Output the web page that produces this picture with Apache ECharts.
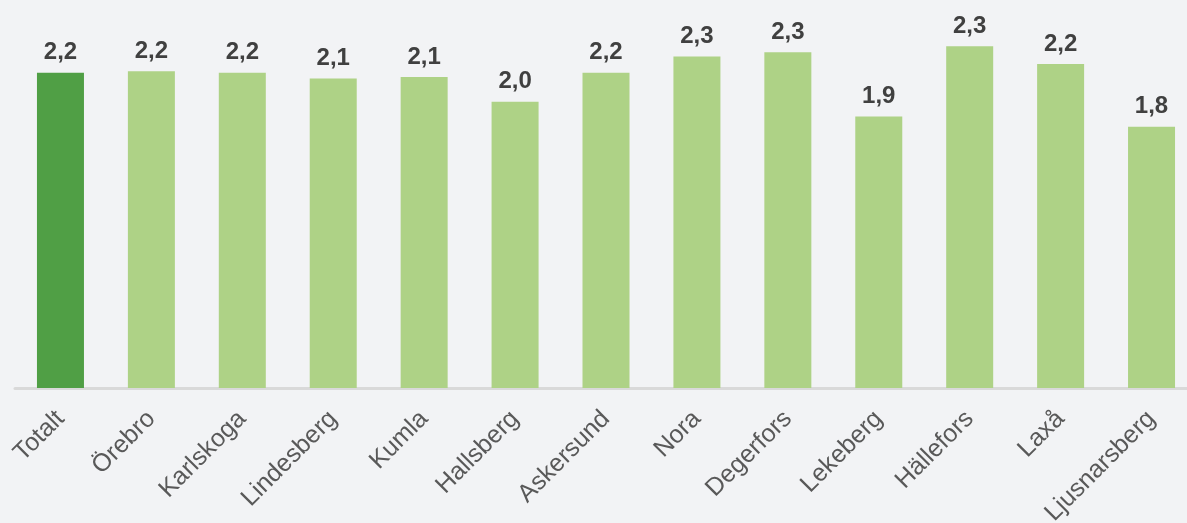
<!DOCTYPE html>
<html>
<head>
<meta charset="utf-8">
<script src="https://cdn.jsdelivr.net/npm/echarts@6/dist/echarts.min.js"></script>
<style>
html, body { margin: 0; padding: 0; background: #f2f3f5; }
#main { width: 1187px; height: 523px; }
</style>
</head>
<body>
<div id="main"></div>
<script>
var categories = ['Totalt', 'Örebro', 'Karlskoga', 'Lindesberg', 'Kumla', 'Hallsberg', 'Askersund',
	'Nora', 'Degerfors', 'Lekeberg', 'Hällefors', 'Laxå', 'Ljusnarsberg'];
var values = [2.16, 2.17, 2.16, 2.12, 2.13, 1.96, 2.16, 2.27, 2.30, 1.86, 2.34, 2.22, 1.79];

var myChart = echarts.init(document.getElementById('main'));

var barData = values.map(function (v, i) {
	return {
		value: v,
		itemStyle: { color: i === 0 ? '#509f45' : '#aed286' }
	};
});

var option = {
	backgroundColor: '#f2f3f5',
	animation: false,
	grid: { left: 15, right: -10, top: 23, bottom: 135, outerBoundsMode: 'none', containLabel: false },
	xAxis: {
		type: 'category',
		data: categories,
		axisLine: { lineStyle: { color: '#d9d9d9', width: 3 } },
		axisTick: { alignWithLabel: true, length: 5, lineStyle: { color: '#d9d9d9', width: 2 } },
		axisLabel: {
			rotate: 45,
			interval: 0,
			margin: 27,
			color: '#595959',
			fontSize: 25,
			fontFamily: 'Liberation Sans, Arial, sans-serif'
		}
	},
	yAxis: {
		type: 'value',
		min: 0,
		max: 2.5,
		show: false,
		splitLine: { show: false }
	},
	series: [{
		type: 'bar',
		barWidth: 47,
		data: barData,
		label: {
			show: true,
			position: 'top',
			distance: 8,
			color: '#404040',
			fontSize: 24,
			fontWeight: 'bold',
			fontFamily: 'Liberation Sans, Arial, sans-serif',
			formatter: function (p) {
				return p.value.toFixed(1).replace('.', ',');
			}
		}
	}]
};

myChart.setOption(option);
</script>
</body>
</html>
